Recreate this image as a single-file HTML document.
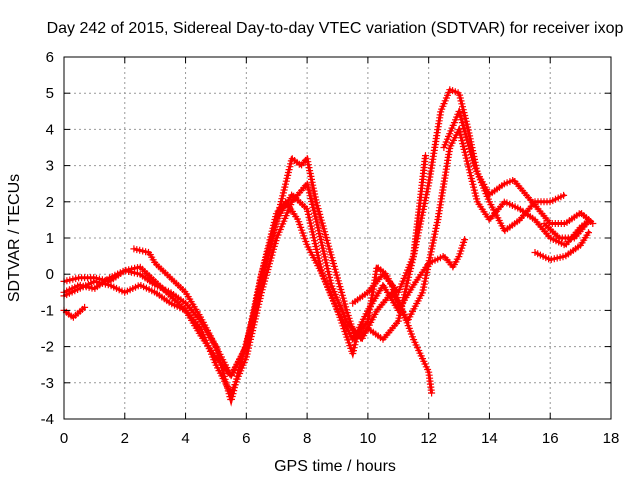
<!DOCTYPE html>
<html><head><meta charset="utf-8"><style>
body{margin:0;background:#fff}
svg text{font-family:"Liberation Sans",sans-serif;font-size:15px;fill:#000}
svg text.big{font-size:16px}
</style></head><body>
<svg id="c" width="640" height="480">
<rect width="640" height="480" fill="#fff"/>
<g id="grid"></g><g id="marks"></g>
<rect x="64" y="57" width="547" height="362" fill="none" stroke="#000" stroke-width="1"/>
<g id="ticks"></g>
<text class="big" x="335" y="33" text-anchor="middle">Day 242 of 2015, Sidereal Day-to-day VTEC variation (SDTVAR) for receiver ixop</text>
<text class="big" x="335" y="471" text-anchor="middle">GPS time / hours</text>
<text class="big" transform="translate(19,238) rotate(-90)" text-anchor="middle">SDTVAR / TECUs</text>
</svg>
<script>
const xTicks=[0,2,4,6,8,10,12,14,16,18];
const yTicks=[-4,-3,-2,-1,0,1,2,3,4,5,6];
const trackA=[[0,-0.5],[0.5,-0.3],[1,-0.4],[1.5,-0.1],[2,0.1],[2.5,0.2],[3,-0.2],[3.5,-0.6],[4,-1.0],[4.5,-1.5],[5,-2.5],[5.5,-3.3],[6,-2.3],[6.5,-0.5],[7,1.0],[7.5,2.0],[8,2.5],[8.3,1.5],[8.8,-0.3],[9.3,-1.3],[9.8,-1.8],[10.3,-1.0],[10.8,-0.5],[11.3,-1.3],[11.8,-0.5],[12.3,1.5],[12.7,3.5],[13,4.0],[13.3,3.0],[13.6,2.0],[14,1.5],[14.5,2.0],[15,1.8],[15.5,1.5],[16,1.0],[16.5,0.8],[17,1.3],[17.3,1.5]];
const trackB=[[0,-0.2],[0.5,-0.1],[1,-0.1],[1.5,-0.2],[2,0.1],[2.5,0.0],[3,-0.3],[3.5,-0.5],[4,-0.8],[4.5,-1.3],[5,-2.0],[5.3,-2.9],[5.5,-3.5],[5.8,-2.5],[6.2,-1.3],[6.5,0.0],[7,1.5],[7.5,3.2],[7.8,3.0],[8,3.2],[8.3,2.0],[8.8,0.5],[9.3,-1.0],[9.6,-1.8],[10,-1.5],[10.5,-1.8],[11,-1.3],[11.5,0.5],[11.9,3.3]];
const trackC=[[0,-0.6],[0.5,-0.4],[1,-0.2],[1.5,-0.3],[2,-0.5],[2.5,-0.3],[3,-0.5],[3.5,-0.8],[4,-1.0],[4.5,-1.7],[5,-2.3],[5.5,-2.8],[6,-2.0],[6.5,0.0],[7,1.7],[7.3,2.0],[7.7,1.5],[8,0.8],[8.5,0.0],[9,-1.0],[9.5,-1.8],[10,-1.3],[10.3,0.2],[10.6,0.0],[11,-0.7],[11.5,-1.8],[12,-2.7],[12.1,-3.3]];
const trackD1=[[0,-1.0],[0.3,-1.2],[0.7,-0.9]];
const trackD=[[2.3,0.7],[2.8,0.6],[3,0.3],[3.5,-0.1],[4,-0.5],[4.5,-1.2],[5,-2.0],[5.5,-2.8],[6,-2.0],[6.5,-0.2],[7,1.5],[7.5,2.2],[8,1.8],[8.5,0.0],[9,-1.0],[9.5,-2.2],[9.7,-1.5],[10,-1.0],[10.5,-0.3],[11,-1.0],[11.5,-0.3],[12,0.3],[12.5,0.5],[12.8,0.2],[13,0.5],[13.2,1.0]];
const trackE=[[9.5,-0.8],[10,-0.5],[10.5,0.0],[11,-0.5],[11.5,0.5],[12,2.5],[12.4,4.5],[12.7,5.1],[13,5.0],[13.3,4.0],[13.6,2.8],[14,2.2],[14.5,2.5],[14.8,2.6],[15.2,2.2],[15.6,1.8],[16,1.4],[16.5,1.4],[17,1.7],[17.4,1.4]];
const trackF=[[12.5,3.5],[13,4.5],[13.5,3.0],[14,2.0],[14.5,1.2],[15,1.5],[15.5,2.0],[16,2.0],[16.5,2.2]];
const trackG=[[15.5,0.6],[16,0.4],[16.5,0.5],[17,0.8],[17.3,1.2]];
const trackH=[[15.8,1.4],[16.3,1.0],[16.8,1.0],[17.3,1.5]];
const tracks=[trackA,trackB,trackC,trackD1,trackD,trackE,trackF,trackG,trackH];
const L=64,R=611,T=57,B=419;
const sx=v=>L+(v-0)/18*(R-L), sy=v=>B-(v+4)/10*(B-T);
const NS="http://www.w3.org/2000/svg";
const grid=document.getElementById('grid'),ticks=document.getElementById('ticks'),marks=document.getElementById('marks');
function mk(tag,attrs,parent){const e=document.createElementNS(NS,tag);for(const k in attrs)e.setAttribute(k,attrs[k]);parent.appendChild(e);return e;}
xTicks.forEach(t=>{const x=sx(t);
 if(t>0&&t<18){const g=mk('line',{x1:x,x2:x,y1:T,y2:B,stroke:'#999','stroke-dasharray':'2,3'},grid);
 
 }
 mk('line',{x1:x,x2:x,y1:B,y2:B-6,stroke:'#000'},ticks);mk('line',{x1:x,x2:x,y1:T,y2:T+6,stroke:'#000'},ticks);
 const l=mk('text',{x:x,y:B+24,'text-anchor':'middle'},ticks);l.textContent=t;
 
 });
yTicks.forEach(t=>{const y=sy(t);
 if(t>-4&&t<6){const g=mk('line',{x1:L,x2:R,y1:y,y2:y,stroke:'#999','stroke-dasharray':'2,3'},grid);
 
 }
 mk('line',{x1:L,x2:L+6,y1:y,y2:y,stroke:'#000'},ticks);mk('line',{x1:R,x2:R-6,y1:y,y2:y,stroke:'#000'},ticks);
 const l=mk('text',{x:L-10,y:y+5,'text-anchor':'end'},ticks);l.textContent=t;
 
 });
tracks.forEach((tr,i)=>{
 const d=tr.map((p,j)=>(j?'L':'M')+sx(p[0]).toFixed(1)+','+sy(p[1]).toFixed(1)).join(' ');
 const path=mk('path',{d:d,fill:'none',stroke:'#f00','stroke-width':3},marks);
 
 
 const len=path.getTotalLength();let s='';
 for(let l=0;l<=len;l+=3){const p=path.getPointAtLength(l);s+=`M${(p.x-3.5).toFixed(1)},${p.y.toFixed(1)}h7M${p.x.toFixed(1)},${(p.y-3.5).toFixed(1)}v7`;}
 const m=mk('path',{d:s,stroke:'#f00','stroke-width':1.2,fill:'none'},marks);
 
 
});
</script>
</body></html>
